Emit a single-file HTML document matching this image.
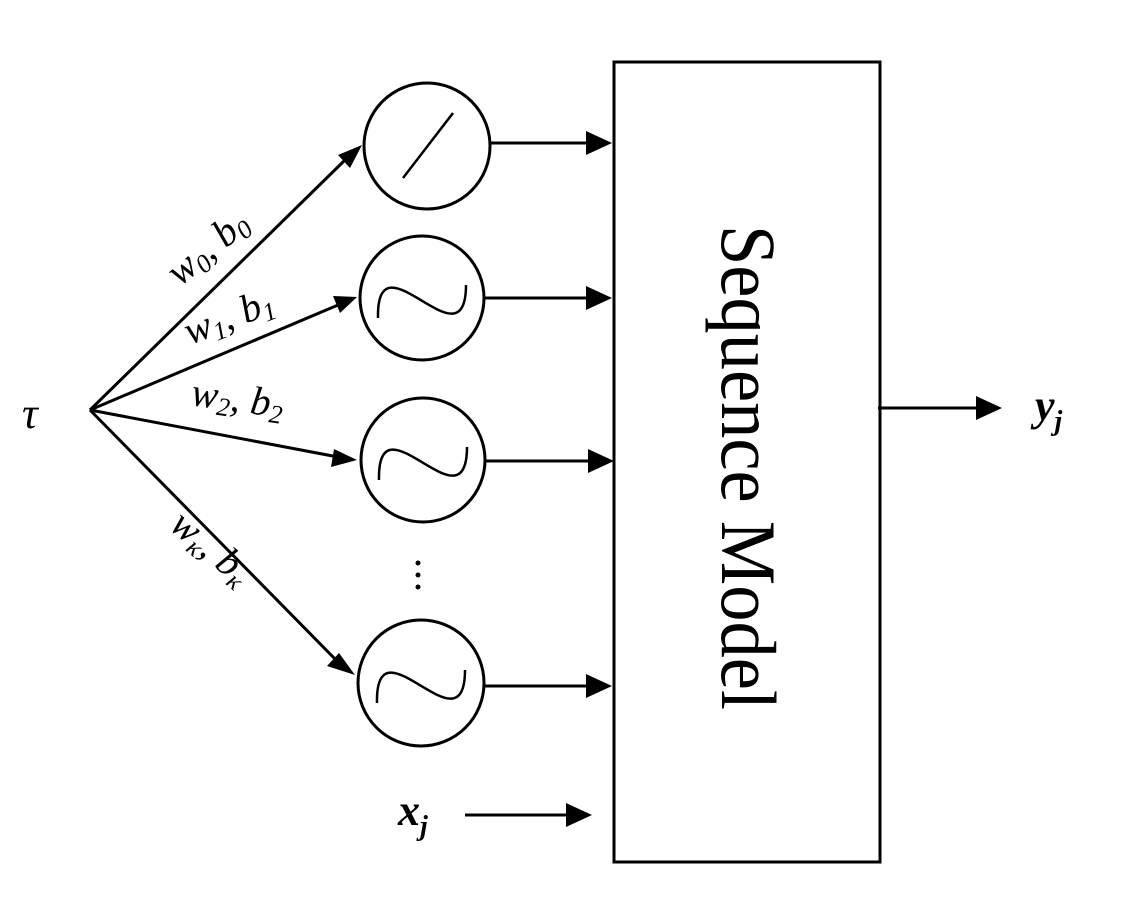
<!DOCTYPE html>
<html><head><style>html,body{margin:0;padding:0;background:#fff}svg{display:block}</style></head>
<body>
<svg width="1130" height="902" viewBox="0 0 1130 902" xmlns="http://www.w3.org/2000/svg">
<defs>
<marker id="a" markerWidth="10" markerHeight="10" refX="9" refY="5" orient="auto" markerUnits="userSpaceOnUse" viewBox="0 0 10 10">
</marker>
</defs>
<g stroke="#000" stroke-width="3" fill="none">
<rect x="614" y="62" width="266" height="800" stroke-width="3"/>
<circle cx="427" cy="146" r="63"/>
<circle cx="422" cy="298" r="62"/>
<circle cx="423" cy="460" r="62"/>
<circle cx="421" cy="683" r="63"/>
<line x1="403" y1="178" x2="453" y2="113" stroke-width="2.5"/>
<path d="M378,318 C376,230 466,370 466,285" stroke-width="2.5"/>
<path d="M379,480 C377,392 467,532 467,447" stroke-width="2.5"/>
<path d="M377,703 C375,615 465,755 465,670" stroke-width="2.5"/>
<line x1="90" y1="410" x2="345" y2="160"/>
<line x1="90" y1="410" x2="338" y2="305"/>
<line x1="90" y1="410" x2="338" y2="457"/>
<line x1="90" y1="410" x2="338" y2="662"/>
<line x1="490" y1="143" x2="590" y2="143"/>
<line x1="485" y1="298" x2="590" y2="298"/>
<line x1="486" y1="461" x2="592" y2="461"/>
<line x1="485" y1="686" x2="590" y2="686"/>
<line x1="878" y1="408" x2="980" y2="408"/>
<line x1="465" y1="815" x2="568" y2="815"/>
</g>
<g fill="#000">
<polygon points="362,145 338,155 350,168"/>
<polygon points="357,297 333,296 340,313"/>
<polygon points="357,460 334,449 331,467"/>
<polygon points="355,675 339,653 327,666"/>
<polygon points="612,143 586,131 586,155"/>
<polygon points="612,298 586,286 586,310"/>
<polygon points="614,461 588,449 588,473"/>
<polygon points="612,686 586,674 586,698"/>
<polygon points="1002,408 976,396 976,420"/>
<polygon points="592,815 566,803 566,827"/>
<circle cx="418" cy="563" r="2.5"/><circle cx="418" cy="575" r="2.5"/><circle cx="418" cy="587" r="2.5"/>
</g>
<g font-family="Liberation Serif, serif" font-style="italic" fill="#000">
<text x="22" y="428" font-size="44">τ</text>
<text transform="translate(180,287) rotate(-40)" font-size="40">w<tspan font-size="26" dy="6">0</tspan><tspan dy="-6">, b</tspan><tspan font-size="26" dy="6">0</tspan></text>
<text transform="translate(190,345) rotate(-21)" font-size="40">w<tspan font-size="26" dy="6">1</tspan><tspan dy="-6">, b</tspan><tspan font-size="26" dy="6">1</tspan></text>
<text transform="translate(190,405) rotate(8)" font-size="40">w<tspan font-size="26" dy="6">2</tspan><tspan dy="-6">, b</tspan><tspan font-size="26" dy="6">2</tspan></text>
<text transform="translate(168,528) rotate(40)" font-size="40">w<tspan font-size="26" dy="6">κ</tspan><tspan dy="-6">, b</tspan><tspan font-size="26" dy="6">κ</tspan></text>
<text x="1035" y="420" font-size="44" font-weight="bold">y<tspan font-size="28" dy="10">j</tspan></text>
<text x="398" y="825" font-size="44" font-weight="bold">x<tspan font-size="28" dy="10">j</tspan></text>
</g>
<text transform="translate(722,225) rotate(90)" font-family="Liberation Serif, serif" font-size="78" textLength="485" lengthAdjust="spacingAndGlyphs" fill="#000">Sequence Model</text>
</svg>
</body></html>
